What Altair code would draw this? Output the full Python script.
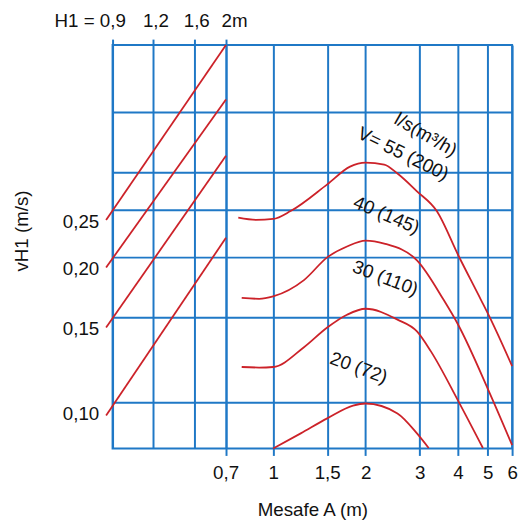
import altair as alt
import pandas as pd

# ---------------- data ----------------
# flow-rate curves: distance A (m) -> v_H1 (m/s)
curve_names = ["55", "40", "30", "20"]
a_55 = [0.77, 0.88, 1.0, 1.14, 1.5, 1.78, 2.0, 2.3, 2.54, 2.94, 3.41, 4.01, 4.75, 5.08, 6.0]
v_55 = [0.241, 0.2385, 0.2396, 0.2488, 0.2826, 0.3077, 0.3135, 0.3106, 0.2977, 0.2734, 0.2488, 0.2012, 0.1628, 0.1495, 0.1186]
a_40 = [0.79, 0.9, 1.0, 1.26, 1.5, 1.74, 2.0, 2.3, 2.94, 3.59, 4.0, 5.08, 6.0]
v_40 = [0.1643, 0.1636, 0.1655, 0.1789, 0.1994, 0.21, 0.216, 0.213, 0.1966, 0.1628, 0.1447, 0.104, 0.0813]
a_30 = [0.79, 0.9, 1.0, 1.26, 1.5, 1.74, 2.0, 2.54, 2.94, 3.26, 4.0, 4.82]
v_30 = [0.1181, 0.1178, 0.1181, 0.1298, 0.1426, 0.1516, 0.156, 0.1481, 0.14, 0.1274, 0.1006, 0.0802]
a_20 = [1.0, 1.23, 1.5, 1.82, 2.0, 2.54, 2.94, 3.21]
v_20 = [0.08, 0.086, 0.0924, 0.0982, 0.0992, 0.0946, 0.086, 0.0802]

# H1 conversion lines (v at H1 start / H1 = 2 m)
h1_start = 0.86
h1_end = 2.0
v_line_start = [0.2385, 0.190, 0.1426, 0.0937]
v_line_end = [0.55, 0.424, 0.324, 0.219]

# annotations
ann_text = ["l/s(m³/h)", "V= 55 (200)", "40 (145)", "30 (110)", "20 (72)"]
ann_a = [3.14, 2.65, 2.34, 2.32, 1.90]
ann_v = [0.358, 0.327, 0.244, 0.1805, 0.1176]
ann_angle = [30, 26, 23, 21, 20]

# axis ticks
a_ticks = [0.7, 1, 1.5, 2, 3, 4, 5, 6]
h1_ticks = [0.9, 1.2, 1.6, 2]
v_ticks = [0.1, 0.15, 0.2, 0.25, 0.3, 0.4]

# ---------------- styling ----------------
BLUE = "#1f78c6"
RED = "#cc2229"
FONT = "Liberation Sans"
FS = 19

curves = pd.concat(
    [pd.DataFrame({"A": a, "v": v, "V": n})
     for n, a, v in zip(curve_names, [a_55, a_40, a_30, a_20], [v_55, v_40, v_30, v_20])],
    ignore_index=True,
)
lines = pd.concat(
    [pd.DataFrame({"H1": [h1_start, h1_end], "v": [s, e], "id": str(i)})
     for i, (s, e) in enumerate(zip(v_line_start, v_line_end))],
    ignore_index=True,
)
ann = pd.DataFrame({"text": ann_text, "A": ann_a, "v": ann_v})

y_enc = alt.Y(
    "v:Q",
    scale=alt.Scale(type="log", domain=[0.08, 0.55], nice=False, zero=False),
    axis=alt.Axis(
        values=v_ticks,
        labelExpr="datum.value <= 0.26 ? replace(format(datum.value, '.2f'), '.', ',') : ''",
        ticks=False, domain=False, grid=True, gridColor=BLUE, gridWidth=2, gridOpacity=1,
        labelOffset=12, labelPadding=14, labelFontSize=FS, labelFont=FONT, labelColor="#111",
        labelOverlap=False,
        title="vH1 (m/s)", titleFont=FONT, titleFontSize=FS, titleFontWeight="normal",
        titleColor="#111", titleAngle=-90, titleX=-86, titleY=188, titleAlign="center",
        titleBaseline="alphabetic",
    ),
)

x_a = alt.X(
    "A:Q",
    scale=alt.Scale(type="log", domain=[0.3, 6], nice=False, zero=False),
    axis=alt.Axis(
        orient="bottom", values=a_ticks,
        labelExpr="replace(format(datum.value, '~g'), '.', ',')",
        grid=True, gridColor=BLUE, gridWidth=2, gridOpacity=1,
        ticks=True, tickColor=BLUE, tickWidth=2, tickSize=7, domain=False,
        labelFlush=False, labelOverlap=False, labelPadding=8,
        labelFontSize=FS, labelFont=FONT, labelColor="#111",
        title="Mesafe A (m)", titleFont=FONT, titleFontSize=FS, titleFontWeight="normal",
        titleColor="#111", titleY=68, titleBaseline="alphabetic",
    ),
)

x_h = alt.X(
    "H1:Q",
    scale=alt.Scale(type="log", domain=[0.9, 15], nice=False, zero=False),
    axis=alt.Axis(
        orient="top", values=h1_ticks,
        labelExpr="datum.value == 0.9 ? 'H1 = 0,9' : (datum.value == 2 ? '2m' : replace(format(datum.value, '~g'), '.', ','))",
        labelAlign={"condition": [{"test": "datum.value == 0.9", "value": "right"},
                                  {"test": "datum.value == 2", "value": "left"}],
                    "value": "center"},
        labelOffset={"condition": [{"test": "datum.value == 0.9", "value": 13},
                                   {"test": "datum.value == 2", "value": -5}],
                     "value": 2},
        grid=True, gridColor=BLUE, gridWidth=2, gridOpacity=1,
        ticks=True, tickColor=BLUE, tickWidth=2, tickSize=6, domain=False,
        labelFlush=False, labelOverlap=False, labelPadding=9,
        labelFontSize=FS, labelFont=FONT, labelColor="#111",
        title="",
    ),
)

curve_layer = alt.Chart(curves).mark_line(
    color=RED, strokeWidth=1.8, interpolate="monotone"
).encode(x=x_a, y=y_enc, detail="V:N")

text_layers = []
for i in range(len(ann_text)):
    text_layers.append(
        alt.Chart(ann.iloc[[i]]).mark_text(
            font=FONT, fontSize=FS, color="#111", angle=ann_angle[i],
            align="center", baseline="middle",
        ).encode(x=x_a, y=y_enc, text="text:N")
    )

distance_layer = alt.layer(curve_layer, *text_layers)

line_layer = alt.Chart(lines).mark_line(color=RED, strokeWidth=1.8).encode(
    x=x_h, y=y_enc, detail="id:N"
)

chart = (
    alt.layer(distance_layer, line_layer)
    .resolve_scale(x="independent")
    .properties(
        width=405, height=409,
        autosize=alt.AutoSizeParams(type="none"),
        padding={"left": 106, "top": 34, "right": 8, "bottom": 75},
        background="white",
    )
    .configure_view(stroke=BLUE, strokeWidth=2)
)

chart.save("out.html", embed_options={"renderer": "svg", "actions": False})
